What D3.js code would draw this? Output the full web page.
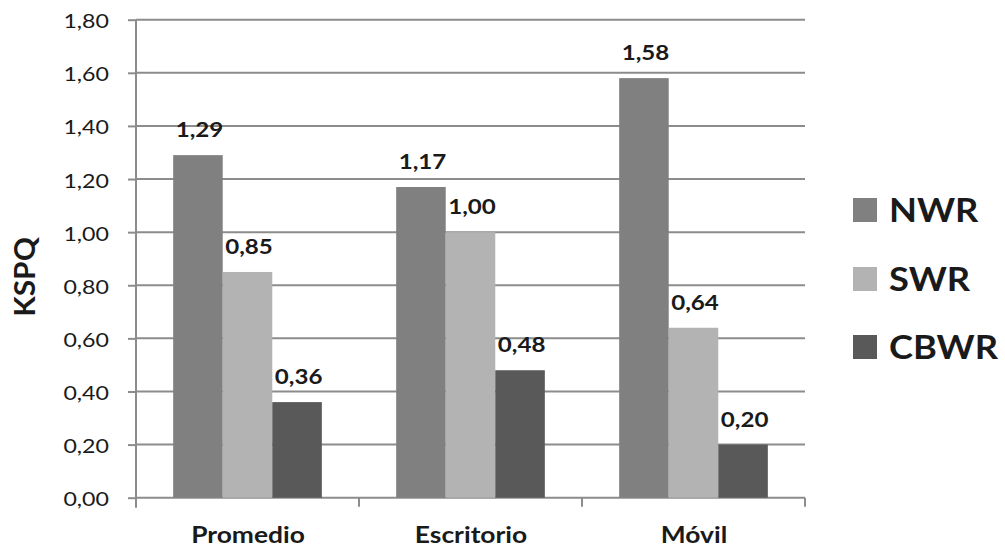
<!DOCTYPE html>
<html>
<head>
<meta charset="utf-8">
<script src="https://cdn.jsdelivr.net/npm/d3@7"></script>
<style>
  html, body { margin: 0; padding: 0; background: #fff; }
  svg { display: block; }
  text { font-family: Lato, "Open Sans", sans-serif; fill: #1a1a1a; }
</style>
</head>
<body>
<svg id="chart" width="1005" height="548"></svg>
<script>
// Categories, series and their values (KSPQ)
const categories = ["Promedio", "Escritorio", "Móvil"];
const seriesNames = ["NWR", "SWR", "CBWR"];
const nwrValues = [1.29, 1.17, 1.58];
const swrValues = [0.85, 1.00, 0.64];
const cbwrValues = [0.36, 0.48, 0.20];
const yTicks = [0, 0.2, 0.4, 0.6, 0.8, 1.0, 1.2, 1.4, 1.6, 1.8];
const seriesColors = ["#808080", "#b3b3b3", "#595959"];

const seriesValues = [nwrValues, swrValues, cbwrValues];
const fmt = v => v.toFixed(2).replace(".", ",");

const svg = d3.select("#chart");
const plot = { left: 136, right: 805, top: 19.7, bottom: 497.7 };

// text drawn with a slight horizontal widening (wide face look)
function wideText(sel, x, y, sx) {
  return sel.attr("x", 0).attr("y", 0)
    .attr("transform", (d, i) => `translate(${typeof x === "function" ? x(d, i) : x},${typeof y === "function" ? y(d, i) : y}) scale(${sx},1)`);
}

const x = d3.scaleBand().domain(categories).range([plot.left, plot.right]).paddingInner(0).paddingOuter(0);
const xs = d3.scaleBand().domain(seriesNames).range([0, x.bandwidth()]).paddingInner(0).paddingOuter(0.75);
const y = d3.scaleLinear().domain([0, 1.8]).range([plot.bottom, plot.top]);

// gridlines
svg.append("g").selectAll("line").data(yTicks.slice(1)).join("line")
  .attr("x1", plot.left).attr("x2", plot.right)
  .attr("y1", d => y(d)).attr("y2", d => y(d))
  .attr("stroke", "#8c8c8c").attr("stroke-width", 2);

// y axis
const yAxis = svg.append("g").attr("transform", `translate(${plot.left},0)`)
  .call(d3.axisLeft(y).tickValues(yTicks).tickFormat(fmt).tickSizeInner(8).tickSizeOuter(0));
yAxis.select(".domain").attr("stroke", "#8c8c8c").attr("stroke-width", 2)
  .attr("d", `M0,${plot.bottom + 10}V${plot.top}`);
yAxis.selectAll(".tick line").attr("stroke", "#8c8c8c").attr("stroke-width", 2);
yAxis.selectAll(".tick text")
  .attr("font-size", 19).attr("fill", "#222").attr("dy", null)
  .attr("x", 0).attr("y", 0)
  .attr("transform", "translate(-27,8) scale(1.22,1)");

// x axis
const boundaries = [plot.left, ...categories.map(c => x(c) + x.bandwidth())];
const xAxis = svg.append("g");
xAxis.append("line").attr("x1", plot.left).attr("x2", plot.right)
  .attr("y1", plot.bottom).attr("y2", plot.bottom)
  .attr("stroke", "#8c8c8c").attr("stroke-width", 2);
xAxis.selectAll("line.tk").data(boundaries).join("line").attr("class", "tk")
  .attr("x1", d => d).attr("x2", d => d)
  .attr("y1", plot.bottom).attr("y2", plot.bottom + 9)
  .attr("stroke", "#8c8c8c").attr("stroke-width", 2);
wideText(xAxis.selectAll("text").data(categories).join("text"),
    d => x(d) + x.bandwidth() / 2 + 0.5, 543, 1.2)
  .attr("text-anchor", "middle")
  .attr("font-size", 22).attr("font-weight", "bold")
  .text(d => d);

// bars and value labels
const groups = svg.append("g").selectAll("g").data(seriesNames).join("g")
  .attr("fill", (d, i) => seriesColors[i]);
groups.each(function(s, si) {
  const g = d3.select(this);
  g.selectAll("rect").data(categories).join("rect")
    .attr("x", c => x(c) + xs(s))
    .attr("width", xs.bandwidth())
    .attr("y", (c, ci) => y(seriesValues[si][ci]))
    .attr("height", (c, ci) => plot.bottom - y(seriesValues[si][ci]));
  wideText(g.selectAll("text").data(categories).join("text"),
      c => x(c) + xs(s) + xs.bandwidth() / 2 + 1.5,
      (c, ci) => y(seriesValues[si][ci]) - 18, 1.15)
    .attr("text-anchor", "middle")
    .attr("font-size", 21).attr("font-weight", "bold")
    .attr("fill", "#1a1a1a")
    .text((c, ci) => fmt(seriesValues[si][ci]));
});

// y axis title
svg.append("text")
  .attr("transform", "translate(35,277) rotate(-90) scale(1.07,1)")
  .attr("text-anchor", "middle")
  .attr("font-size", 28).attr("font-weight", "bold")
  .text("KSPQ");

// legend
const legend = svg.append("g");
const legendY = [210, 279, 347];
seriesNames.forEach((s, i) => {
  legend.append("rect").attr("x", 853).attr("y", legendY[i] - 12).attr("width", 24).attr("height", 24)
    .attr("fill", seriesColors[i]);
  legend.append("text")
    .attr("transform", `translate(889,${legendY[i] + 12}) scale(1.1,1)`)
    .attr("font-size", 33).attr("font-weight", "bold")
    .text(s);
});
</script>
</body>
</html>
